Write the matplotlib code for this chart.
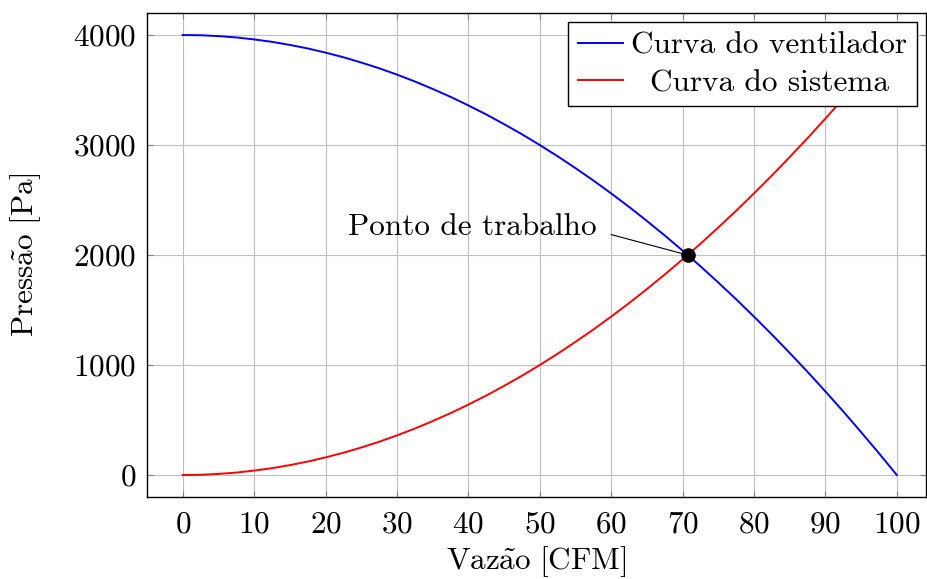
import matplotlib
matplotlib.use("Agg")
import matplotlib.pyplot as plt

plt.rcParams['font.family'] = ['cmr10', 'DejaVu Serif']
plt.rcParams['mathtext.fontset'] = 'cm'
plt.rcParams['axes.formatter.use_mathtext'] = True
plt.rcParams['font.size'] = 22.5

# Data
vazao = [0, 2.5, 5, 7.5, 10, 12.5, 15, 17.5, 20, 22.5, 25, 27.5, 30, 32.5, 35, 37.5,
         40, 42.5, 45, 47.5, 50, 52.5, 55, 57.5, 60, 62.5, 65, 67.5, 70, 72.5, 75,
         77.5, 80, 82.5, 85, 87.5, 90, 92.5, 95, 97.5, 100]
ventilador = [4000, 3998, 3990, 3978, 3960, 3938, 3910, 3878, 3840, 3798, 3750, 3698,
              3640, 3578, 3510, 3438, 3360, 3278, 3190, 3098, 3000, 2898, 2790, 2678,
              2560, 2438, 2310, 2178, 2040, 1898, 1750, 1598, 1440, 1278, 1110, 938,
              760, 578, 390, 198, 0]
sistema = [0, 2, 10, 22, 40, 62, 90, 122, 160, 202, 250, 302, 360, 422, 490, 562,
           640, 722, 810, 902, 1000, 1102, 1210, 1322, 1440, 1562, 1690, 1822, 1960,
           2102, 2250, 2402, 2560, 2722, 2890, 3062, 3240, 3422, 3610, 3802, 4000]
ponto_x = [70.7]
ponto_y = [2000]
xticks = [0, 10, 20, 30, 40, 50, 60, 70, 80, 90, 100]
yticks = [0, 1000, 2000, 3000, 4000]

fig = plt.figure(figsize=(9.27, 5.79), dpi=100)
ax = fig.add_axes([0.1586, 0.1416, 0.8404, 0.8359])

ax.plot(vazao, ventilador, color='blue', lw=1.4, label='Curva do ventilador')
ax.plot(vazao, sistema, color='red', lw=1.4, label='Curva do sistema')
ax.plot(ponto_x, ponto_y, 'o', color='black', ms=9.5, zorder=5)

ax.plot([60.0, ponto_x[0]], [2186, ponto_y[0]], color='black', lw=0.8, zorder=4)
ax.text(57.9, 2250, 'Ponto de trabalho', ha='right', va='center')

ax.set_xlim(-5, 104.1)
ax.set_ylim(-200, 4200)
ax.set_xticks(xticks)
ax.set_yticks(yticks)
ax.grid(True, color='#bfbfbf', lw=0.8)
ax.set_axisbelow(True)
ax.tick_params(direction='in', length=4, color='#808080', top=True, right=True)
ax.tick_params(axis='x', pad=10)
ax.tick_params(axis='y', pad=8)
for s in ax.spines.values():
    s.set_linewidth(1.0)

ax.set_xlabel(r'$\mathrm{Vaz\tilde{a}o\ [CFM]}$')
ax.xaxis.set_label_coords(0.5, -0.097)
ax.set_ylabel(r'$\mathrm{Press\tilde{a}o\ [Pa]}$')
ax.yaxis.set_label_coords(-0.134, 0.5)

leg = ax.legend(loc='upper right', frameon=True, fancybox=False, edgecolor='black',
                framealpha=1, handlelength=1.45, handletextpad=0.27, borderpad=0.3,
                labelspacing=0.3, borderaxespad=0.3)
leg.get_frame().set_linewidth(1.0)

# center the shorter legend label within the column
fig.canvas.draw()
r = fig.canvas.get_renderer()
w0 = leg.get_texts()[0].get_window_extent(r).width
w1 = leg.get_texts()[1].get_window_extent(r).width
row = leg._legend_handle_box.get_children()[0].get_children()[1]
row.sep = row.sep + (w0 - w1) / 2 * 72 / fig.dpi

fig.savefig('out.png', dpi=100)
